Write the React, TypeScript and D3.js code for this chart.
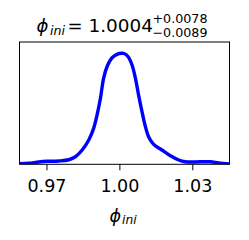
import React from "react";
import * as d3 from "d3";

const phiValues = [0.9587, 0.9625, 0.9666, 0.9701, 0.9748, 0.979, 0.9817, 0.9845, 0.9872, 0.9892, 0.9906, 0.992, 0.9933, 0.9947, 0.9968, 0.9988, 1.0008, 1.0018, 1.0034, 1.005, 1.0064, 1.0077, 1.0091, 1.0105, 1.0118, 1.0139, 1.0173, 1.0208, 1.0242, 1.0269, 1.031, 1.0372, 1.0406, 1.0451];
const density = [0.005, 0.009, 0.021, 0.027, 0.03, 0.041, 0.068, 0.129, 0.219, 0.324, 0.444, 0.595, 0.775, 0.879, 0.96, 0.991, 1.0, 0.998, 0.969, 0.895, 0.775, 0.624, 0.474, 0.339, 0.249, 0.18, 0.129, 0.077, 0.039, 0.023, 0.021, 0.023, 0.012, 0.003];
const tickValues = [0.97, 1.0, 1.03];
const tickLabels = ["0.97", "1.00", "1.03"];
const xDomain = [0.9587, 1.0451];
const yDomain = [0, 1.102];

const FONT = "DejaVu Sans";

export default function App() {
  const left = 19.5, right = 229.5, top = 42, bottom = 164.3;
  const x = d3.scaleLinear().domain(xDomain).range([left, right]);
  const y = d3.scaleLinear().domain(yDomain).range([bottom, top]);
  const pts: [number, number][] = phiValues.map((v, i) => [v, density[i]]);
  const line = d3
    .line<[number, number]>()
    .x((d) => x(d[0]))
    .y((d) => y(d[1]))
    .curve(d3.curveCatmullRom.alpha(0.5));

  return (
    <svg width={249} height={240} style={{ position: "absolute", left: 0, top: 0 }}>
      <rect width={249} height={240} fill="white" />
      <defs>
        <clipPath id="plotclip">
          <rect x={left} y={top} width={right - left} height={bottom - top} />
        </clipPath>
      </defs>
      <path d={line(pts) || ""} fill="none" stroke="#0000ff" strokeWidth={3.4} strokeLinejoin="round" clipPath="url(#plotclip)" />
      <rect x={left} y={top} width={right - left} height={bottom - top} fill="none" stroke="black" strokeWidth={1} />
      {tickValues.map((t, i) => (
        <g key={t}>
          <line x1={x(t)} x2={x(t)} y1={bottom} y2={bottom + 6} stroke="black" strokeWidth={1} />
          <text x={x(t)} y={191.8} textAnchor="middle" fontFamily={FONT} fontSize={17.5} fill="black">
            {tickLabels[i]}
          </text>
        </g>
      ))}
      {/* x label */}
      <text x={109.5} y={222} fontFamily={FONT} fontSize={17.5} fontStyle="italic" fill="black">ϕ</text>
      <text x={122} y={223.5} fontFamily={FONT} fontSize={12.3} fontStyle="italic" fill="black">ini</text>
      {/* title */}
      <text x={36.5} y={32.3} fontFamily={FONT} fontSize={18} fontStyle="italic" fill="black">ϕ</text>
      <text x={50} y={35} fontFamily={FONT} fontSize={12.6} fontStyle="italic" fill="black">ini</text>
      <text x={67.5} y={32.3} fontFamily={FONT} fontSize={18} fill="black">=</text>
      <text x={88.5} y={32.3} fontFamily={FONT} fontSize={18} fill="black" textLength={64.5} lengthAdjust="spacingAndGlyphs">1.0004</text>
      <text x={152.5} y={22.6} fontFamily={FONT} fontSize={12.6} fill="black" textLength={55} lengthAdjust="spacingAndGlyphs">+0.0078</text>
      <text x={152.5} y={37} fontFamily={FONT} fontSize={12.6} fill="black" textLength={55} lengthAdjust="spacingAndGlyphs">−0.0089</text>
    </svg>
  );
}
